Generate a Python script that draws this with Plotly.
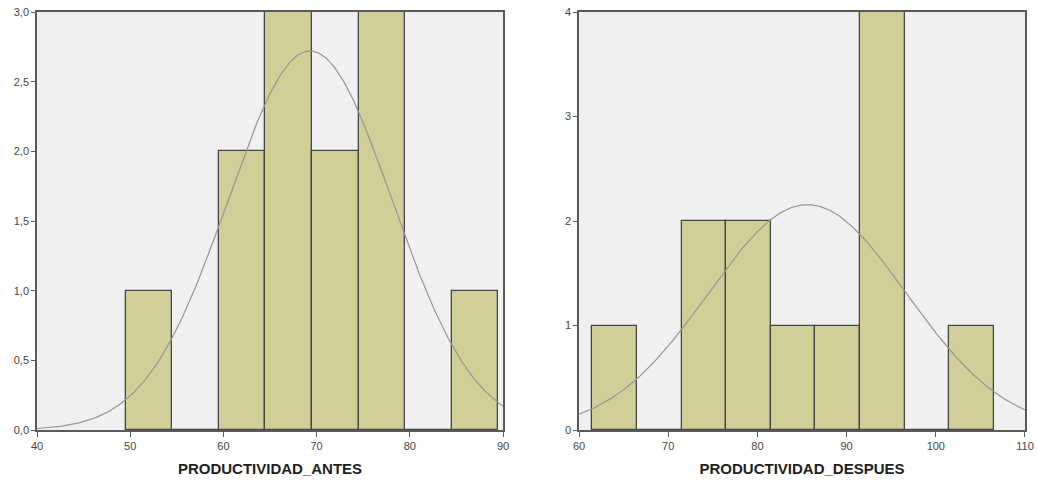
import numpy as np
import plotly.graph_objects as go
from plotly.subplots import make_subplots

# Data
bins_antes = [52, 57, 62, 67, 72, 77, 82, 87]
counts_antes = [1, 0, 2, 3, 2, 3, 0, 1]
mean_antes, sd_antes = 69.3, 8.8

bins_despues = [64, 69, 74, 79, 84, 89, 94, 99, 104]
counts_despues = [1, 0, 2, 2, 1, 1, 4, 0, 1]
mean_despues, sd_despues = 85.6, 11.1

bin_width = 5
title_antes = "PRODUCTIVIDAD_ANTES"
title_despues = "PRODUCTIVIDAD_DESPUES"

bar_fill = "rgb(210,206,152)"
bar_line = "rgb(70,70,70)"
curve_col = "rgb(150,150,150)"
frame_col = "rgb(90,90,90)"


def normal_curve(lo, hi, mean, sd, n):
    xs = np.linspace(lo, hi, 300)
    ys = n * bin_width / (sd * np.sqrt(2 * np.pi)) * np.exp(-0.5 * ((xs - mean) / sd) ** 2)
    return xs, ys


fig = make_subplots(rows=1, cols=2, horizontal_spacing=0.077)

fig.add_trace(go.Bar(x=bins_antes, y=counts_antes, width=bin_width,
                     marker=dict(color=bar_fill, line=dict(color=bar_line, width=1.3)),
                     showlegend=False), row=1, col=1)
xa, ya = normal_curve(40, 90, mean_antes, sd_antes, sum(counts_antes))
fig.add_trace(go.Scatter(x=xa, y=ya, mode="lines", line=dict(color=curve_col, width=1.2),
                         showlegend=False), row=1, col=1)

fig.add_trace(go.Bar(x=bins_despues, y=counts_despues, width=bin_width,
                     marker=dict(color=bar_fill, line=dict(color=bar_line, width=1.3)),
                     showlegend=False), row=1, col=2)
xd, yd = normal_curve(60, 110, mean_despues, sd_despues, sum(counts_despues))
fig.add_trace(go.Scatter(x=xd, y=yd, mode="lines", line=dict(color=curve_col, width=1.2),
                         showlegend=False), row=1, col=2)

tickfont = dict(family="Liberation Sans Narrow, Arial Narrow, sans-serif", size=11, color="rgb(70,70,70)")
titlefont = dict(family="Liberation Sans, Arial, sans-serif", size=15, color="rgb(30,30,30)")

common_axis = dict(showline=True, linecolor=frame_col, linewidth=1.5, mirror=True,
                   ticks="outside", tickcolor=frame_col, tickwidth=1, automargin=False,
                   showgrid=False, zeroline=False, tickfont=tickfont)

fig.update_xaxes(**common_axis, ticklen=5, range=[40, 90], dtick=10, tick0=40,
                 title=dict(text="<b>" + title_antes + "</b>", font=titlefont, standoff=13), row=1, col=1)
fig.update_xaxes(**common_axis, ticklen=5, range=[60, 110], dtick=10, tick0=60,
                 title=dict(text="<b>" + title_despues + "</b>", font=titlefont, standoff=13), row=1, col=2)
fig.update_yaxes(**common_axis, range=[0, 3], dtick=0.5, tickformat=".1f", ticklen=4, row=1, col=1)
fig.update_yaxes(**common_axis, range=[0, 4], dtick=1, ticklen=4, row=1, col=2)

fig.update_layout(
    width=1037, height=483,
    margin=dict(l=37, r=12, t=12, b=53),
    paper_bgcolor="white",
    plot_bgcolor="rgb(240,240,240)",
    separators=",.",
    barmode="overlay",
    bargap=0,
)
fig.update_layout(xaxis=dict(domain=[0, 0.4717]), xaxis2=dict(domain=[0.5486, 1]))

fig.write_html("out.html")
